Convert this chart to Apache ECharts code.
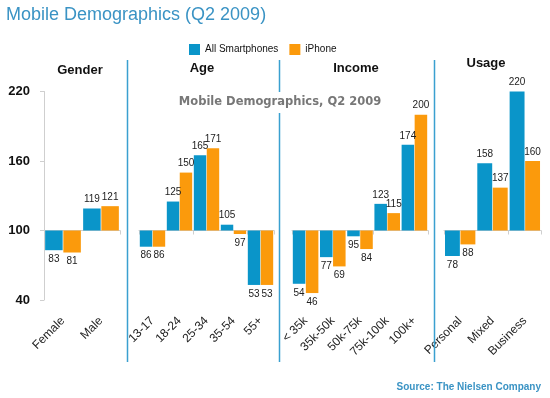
<!DOCTYPE html>
<html>
<head>
<meta charset="utf-8">
<script src="https://cdn.jsdelivr.net/npm/echarts@6/dist/echarts.min.js"></script>
<style>html,body{margin:0;padding:0;background:#fff}#c{width:550px;height:398px}</style>
</head>
<body>
<div id="c"></div>
<script>
// ---- data ----
const panelTitles = ['Gender', 'Age', 'Income', 'Usage'];
const genderCats = ['Female', 'Male'];
const ageCats = ['13-17', '18-24', '25-34', '35-54', '55+'];
const incomeCats = ['< 35k', '35k-50k', '50k-75k', '75k-100k', '100k+'];
const usageCats = ['Personal', 'Mixed', 'Business'];
const genderAll = [83, 119];
const genderIphone = [81, 121];
const ageAll = [86, 125, 165, 105, 53];
const ageIphone = [86, 150, 171, 97, 53];
const incomeAll = [54, 77, 95, 123, 174];
const incomeIphone = [46, 69, 84, 115, 200];
const usageAll = [78, 158, 220];
const usageIphone = [88, 137, 160];
const yTicks = [40, 100, 160, 220];
const baseValue = 100;
const seriesNames = ['All Smartphones', 'iPhone'];

const cats = [genderCats, ageCats, incomeCats, usageCats];
const allVals = [genderAll, ageAll, incomeAll, usageAll];
const iphVals = [genderIphone, ageIphone, incomeIphone, usageIphone];

const BLUE = '#0a95c9';
const ORANGE = '#fb9a0c';
const ACCENT = '#3a93c4';
const FONT = 'Liberation Sans, Arial, sans-serif';

const gridBoxes = [
  {left: 44, width: 76},
  {left: 139, width: 135},
  {left: 292, width: 136},
  {left: 444, width: 97}
];
const TOP = 91.5, HEIGHT = 208.5;

const grid = gridBoxes.map(g => ({left: g.left, width: g.width, top: TOP, height: HEIGHT, containLabel: false}));
const xAxis = [];
const yAxis = [];
const series = [];
cats.forEach((c, i) => {
  xAxis.push({
    gridIndex: i, type: 'category', data: c, position: 'bottom',
    axisLine: {show: false, onZero: false}, axisTick: {show: false},
    axisLabel: {interval: 0, rotate: 45, margin: 19, fontSize: 12, color: '#222', fontFamily: FONT}
  });
  xAxis.push({
    gridIndex: i, type: 'category', data: c, position: 'top',
    axisLine: {show: true, onZero: true, lineStyle: {color: '#cfcfcf', width: 1}},
    axisTick: {show: true, inside: true, length: 4, lineStyle: {color: '#cfcfcf'}},
    axisLabel: {show: false}
  });
  yAxis.push({
    gridIndex: i, type: 'value',
    min: yTicks[0] - baseValue, max: yTicks[yTicks.length - 1] - baseValue,
    interval: yTicks[1] - yTicks[0],
    show: i === 0,
    splitLine: {show: false},
    axisLine: {show: true, lineStyle: {color: '#cfcfcf'}},
    axisTick: {show: true, length: 4, lineStyle: {color: '#cfcfcf'}},
    axisLabel: {
      margin: 14, fontSize: 13, fontWeight: 'bold', color: '#111', fontFamily: FONT,
      formatter: v => String(v + baseValue)
    }
  });
  [allVals[i], iphVals[i]].forEach((vals, k) => {
    series.push({
      type: 'bar', name: seriesNames[k],
      xAxisIndex: i * 2, yAxisIndex: i,
      barGap: '4%', barCategoryGap: '6%',
      itemStyle: {color: k === 0 ? BLUE : ORANGE},
      data: vals.map(v => ({
        value: v - baseValue,
        label: {position: v >= baseValue ? 'top' : 'bottom'}
      })),
      label: {
        show: true, fontSize: 10, color: '#222', fontFamily: FONT, distance: 4,
        formatter: p => String(p.value + baseValue)
      }
    });
  });
});

const sepXs = [127.5, 279.5, 434.5];
const titleXs = [80, 202, 356, 486];
const titleYs = [70, 68, 68, 63];

const graphic = [];
sepXs.forEach(x => graphic.push({
  type: 'line', shape: {x1: x, y1: 60, x2: x, y2: 362},
  style: {stroke: '#3aa0d0', lineWidth: 1.5}, z: 1
}));
panelTitles.forEach((t, i) => graphic.push({
  type: 'text', x: titleXs[i], y: titleYs[i],
  style: {text: t, textAlign: 'center', textVerticalAlign: 'middle',
    font: 'bold 13px ' + FONT, fill: '#111'}, z: 10
}));
graphic.push({
  type: 'rect', shape: {x: 184, y: 92, width: 192, height: 21},
  style: {fill: '#fff'}, z: 20
});
graphic.push({
  type: 'text', x: 280, y: 102.5,
  style: {text: 'Mobile Demographics, Q2 2009', textAlign: 'center', textVerticalAlign: 'middle',
    font: 'bold 11.5px DejaVu Sans, sans-serif', fill: '#777'}, z: 21
});
graphic.push({
  type: 'text', x: 541, y: 387,
  style: {text: 'Source: The Nielsen Company', textAlign: 'right', textVerticalAlign: 'middle',
    font: 'bold 10px ' + FONT, fill: ACCENT}, z: 10
});

const chart = echarts.init(document.getElementById('c'), null, {renderer: 'canvas'});
chart.setOption({
  animation: false,
  backgroundColor: '#fff',
  title: {
    text: 'Mobile Demographics (Q2 2009)', left: 1, top: 1,
    textStyle: {fontSize: 18, fontWeight: 'normal', color: ACCENT, fontFamily: FONT}
  },
  legend: {
    data: seriesNames, left: 184, top: 39,
    itemWidth: 11, itemHeight: 11, itemGap: 11,
    icon: 'rect',
    textStyle: {fontSize: 10, color: '#111', fontFamily: FONT}
  },
  grid, xAxis, yAxis, series, graphic
});
</script>
</body>
</html>
